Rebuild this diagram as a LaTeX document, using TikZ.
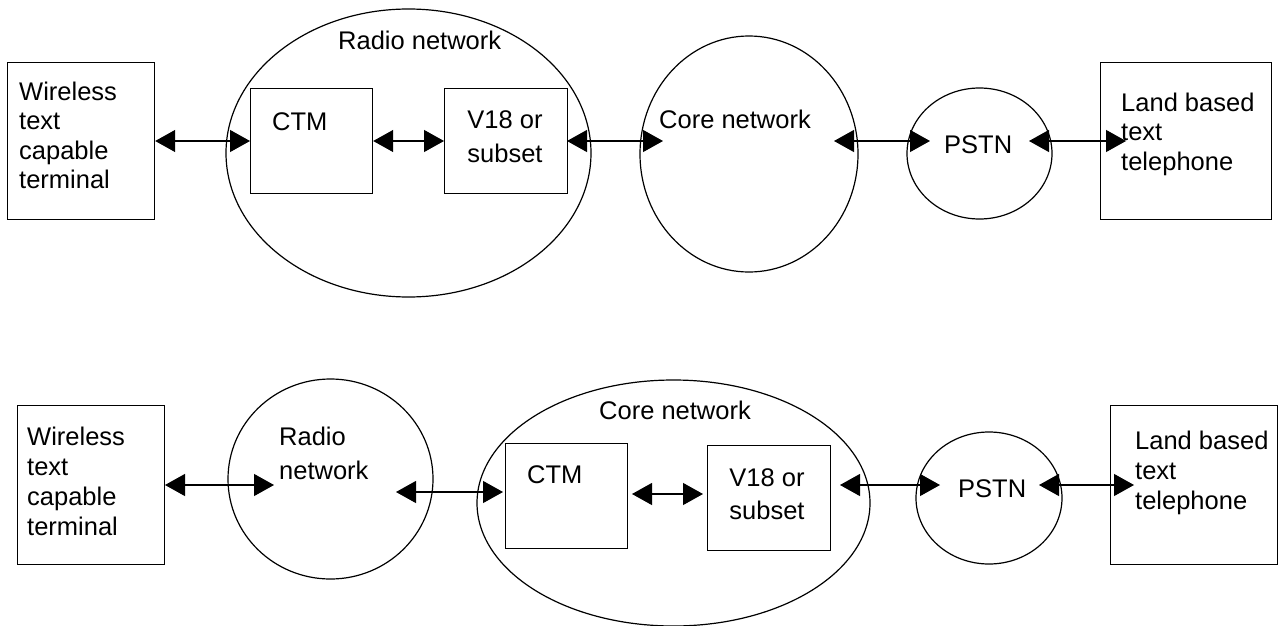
\documentclass[tikz,border=0pt]{standalone}
\usepackage{fontspec}
\setmainfont{Liberation Sans}
\usetikzlibrary{arrows.meta,shapes.geometric}
\begin{document}
\begin{tikzpicture}[x=1pt,y=-1pt,
  lw/.style={line width=1.2pt},
  boxnode/.style={draw,lw,rectangle,anchor=north west,inner sep=0pt},
  ellnode/.style={draw,lw,ellipse,inner sep=0pt},
  lbl/.style={inner sep=0pt,anchor=base west,align=left,font=\fontsize{25.5}{29.5}\selectfont},
  lblc/.style={inner sep=0pt,anchor=base,align=center,font=\fontsize{25.5}{34}\selectfont},
  dbl/.style={lw,{Triangle[length=20pt,width=22pt]}-{Triangle[length=20pt,width=22pt]}}
]
\useasboundingbox (0,0) rectangle (1279,626);
\fill[white] (0,0) rectangle (1279,626);

% ---------- top row ----------
\node[ellnode,minimum width=365pt,minimum height=288pt] (radio1) at (408.5,153) {};
\node[ellnode,minimum width=218pt,minimum height=236pt] (core1) at (749,154) {};
\node[ellnode,minimum width=145pt,minimum height=131pt] (pstn1) at (979.5,153.5) {};
\node[boxnode,minimum width=147pt,minimum height=157pt] (w1) at (7,62) {};
\node[boxnode,minimum width=122pt,minimum height=105pt] (ctm1) at (250,88) {};
\node[boxnode,minimum width=123pt,minimum height=105pt] (v181) at (444,88) {};
\node[boxnode,minimum width=171pt,minimum height=157pt] (land1) at (1100,62) {};

% multi-line labels are anchored at the baseline of their last line
\node[lbl] (tw1) at (19,188.5) {Wireless\\text\\capable\\terminal};
\node[lbl] (tr1) at (338,49) {Radio network};
\node[lbl] (tc1) at (272,130) {CTM};
\node[lblc] (tv1) at (505,162.5) {V18 or\\subset};
\node[lbl] (tco1) at (659,128) {Core network};
\node[lbl] (tp1) at (944,153) {PSTN};
\node[lbl] (tl1) at (1121,170) {Land based\\text\\telephone};

\coordinate (a3s) at (567,141);
\coordinate (a3e) at (663,141);
\coordinate (a4s) at (834,141);
\coordinate (a4e) at (930,141);
\coordinate (a5s) at (1029,141);
\coordinate (a5e) at (1126,141);
\draw[dbl] (w1.east |- a3s) -- (ctm1.west |- a3s);
\draw[dbl] (ctm1.east |- a3s) -- (v181.west |- a3s);
\draw[dbl] (a3s) -- (a3e);
\draw[dbl] (a4s) -- (a4e);
\draw[dbl] (a5s) -- (a5e);

% ---------- bottom row ----------
\node[ellnode,minimum width=205pt,minimum height=200pt] (radio2) at (330.5,479) {};
\node[ellnode,minimum width=393pt,minimum height=246pt] (core2) at (673.5,503) {};
\node[ellnode,minimum width=146pt,minimum height=132pt] (pstn2) at (989,498) {};
\node[boxnode,minimum width=147pt,minimum height=159pt] (w2) at (17,405) {};
\node[boxnode,minimum width=122pt,minimum height=105pt] (ctm2) at (505,443) {};
\node[boxnode,minimum width=123pt,minimum height=105pt] (v182) at (707,445) {};
\node[boxnode,minimum width=167pt,minimum height=159pt] (land2) at (1110,405) {};

\node[lbl,font=\fontsize{25.5}{30}\selectfont] (tw2) at (27,535) {Wireless\\text\\capable\\terminal};
\node[lbl,font=\fontsize{25.5}{34}\selectfont] (tr2) at (279,479) {Radio\\network};
\node[lbl] (tco2) at (599,419) {Core network};
\node[lbl] (tc2) at (527,483) {CTM};
\node[lblc,font=\fontsize{25.5}{33}\selectfont] (tv2) at (767,519) {V18 or\\subset};
\node[lbl] (tp2) at (958,497) {PSTN};
\node[lbl,font=\fontsize{25.5}{30}\selectfont] (tl2) at (1135,509) {Land based\\text\\telephone};

\coordinate (b1s) at (165,485);
\coordinate (b1e) at (274,485);
\coordinate (b2s) at (396,492);
\coordinate (b2e) at (503,492);
\coordinate (b3s) at (632,494);
\coordinate (b3e) at (703,494);
\coordinate (b4s) at (840,485);
\coordinate (b4e) at (940,485);
\coordinate (b5s) at (1039,485);
\coordinate (b5e) at (1134,485);
\draw[dbl] (b1s) -- (b1e);
\draw[dbl] (b2s) -- (b2e);
\draw[dbl] (b3s) -- (b3e);
\draw[dbl] (b4s) -- (b4e);
\draw[dbl] (b5s) -- (b5e);
\end{tikzpicture}
\end{document}
